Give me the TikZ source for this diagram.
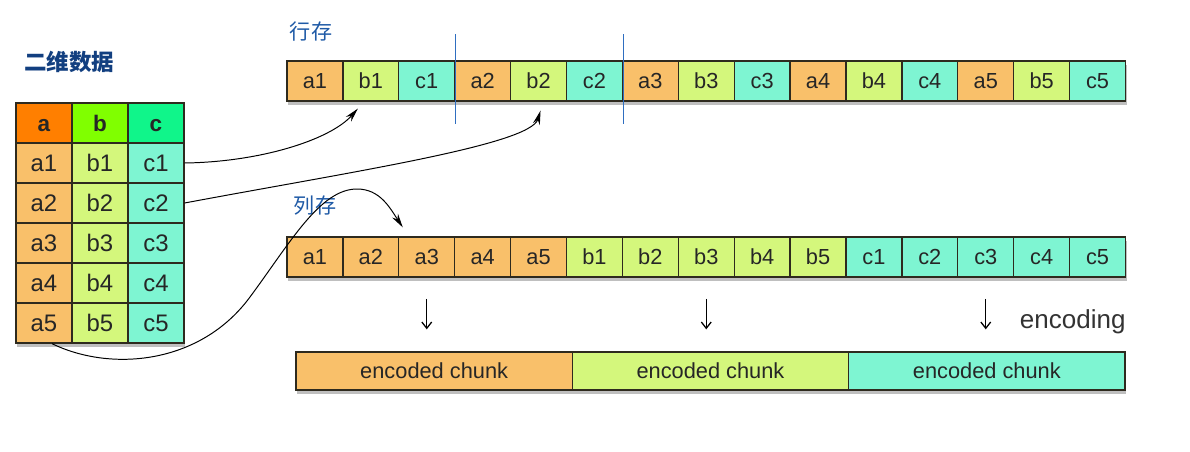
\documentclass[tikz,border=0pt]{standalone}
\usepackage{fontspec}
\setmainfont{Liberation Sans}
\newfontfamily\cjkfont{Noto Sans CJK SC}
\usetikzlibrary{arrows.meta,positioning,shadows,calc}

\definecolor{colA}{HTML}{F9C06A}
\definecolor{colB}{HTML}{D4F77C}
\definecolor{colC}{HTML}{7EF5D2}
\definecolor{headA}{HTML}{FF7F00}
\definecolor{headB}{HTML}{80FF00}
\definecolor{headC}{HTML}{10F58A}
\definecolor{gridline}{HTML}{2E2A1E}
\definecolor{labelblue}{HTML}{1F5AA6}
\definecolor{titleblue}{HTML}{123F80}
\definecolor{splitblue}{HTML}{2F6EC0}

\tikzset{
  cell/.style={draw=gridline, line width=0.9pt, inner sep=0pt, text=black!85,
    minimum width=1.3975cm, minimum height=1cm, font=\fontsize{15.5}{17}\selectfont,
    drop shadow={shadow xshift=1pt, shadow yshift=-2.5pt, fill=black!25, opacity=1}},
  tcell/.style={cell, minimum width=1.4cm, font=\fontsize{17}{19}\selectfont},
  head/.style={tcell, font=\bfseries\fontsize{16}{18}\selectfont, text height=11.5pt, text depth=0pt},
  chunk/.style={cell, minimum width=6.9075cm, minimum height=0.95cm, font=\fontsize{15.5}{17}\selectfont},
  link/.style={-{Stealth[length=10pt,width=5pt]}, line width=0.7pt},
  enc/.style={-{Straight Barb[length=4.5pt,width=7pt]}, line width=0.9pt, shorten <=0.53cm, shorten >=0.55cm},
  split/.style={splitblue, line width=0.6pt},
  tag/.style={font=\cjkfont\fontsize{15}{17}\selectfont, text=labelblue}
}

\begin{document}
\begin{tikzpicture}[x=0.025cm, y=0.025cm]
\useasboundingbox (0,0) rectangle (1190,-452);

% Titles
\node[font=\cjkfont\bfseries\fontsize{16}{18}\selectfont, text=titleblue] (title) at (69,-62) {二维数据};
\node[tag] (rowtag) at (311,-32) {行存};
\node[tag] (coltag) at (315,-206) {列存};

% 2D table
\foreach \l/\c/\h [count=\j] in {a/colA/headA,b/colB/headB,c/colC/headC} {
  \node[head, fill=\h] (t-\l) at ({16+56*(\j-0.5)},-123) {\l};
  \foreach \n in {1,...,5}
    \node[tcell, fill=\c] (t-\l\n) at ({16+56*(\j-0.5)},{-123-40*\n}) {\l\n};
}

% Row storage
\foreach \n in {1,...,5}
  \foreach \l/\c [count=\j] in {a/colA,b/colB,c/colC} {
    \pgfmathtruncatemacro\k{3*(\n-1)+\j}
    \node[cell, fill=\c] (r\k) at ({287+55.9*(\k-0.5)},-81) {\l\n};
  }
\draw[split] ($(r3.north east)+(0,26)$) -- ($(r3.south east)+(0,-22)$);
\draw[split] ($(r6.north east)+(0,26)$) -- ($(r6.south east)+(0,-22)$);

% Column storage
\foreach \l/\c [count=\j] in {a/colA,b/colB,c/colC}
  \foreach \n in {1,...,5} {
    \pgfmathtruncatemacro\k{5*(\j-1)+\n}
    \node[cell, fill=\c] (k\k) at ({287+55.9*(\k-0.5)},-257) {\l\n};
  }

% Encoded chunks
\foreach \c [count=\j] in {colA,colB,colC}
  \node[chunk, fill=\c] (e\j) at ({296+276.33*(\j-0.5)},-371) {encoded chunk};
\foreach \k/\e in {3/1,8/2,13/3}
  \draw[enc] (k\k.south) -- (k\k.south |- e\e.north);
\node[font=\fontsize{18.5}{20}\selectfont, text=black!80, anchor=west] (enclabel) at (1015,-322) {encoding};

% Links from table to strips
\coordinate (tip1) at ($(r2.south)+(-13,-7)$);
\coordinate (tip2) at ($(r5.south)+(2,-9)$);
\coordinate (tip3) at ($(k3.north)+(-24,9)$);
\draw[link] (t-c1.east) .. controls (260,-162) and (330,-140) .. (tip1);
\draw[link] (t-c2.east) .. controls (350,-172) and (530,-145) .. (tip2);
\draw[link] ($(t-a5.south)+(8,0)$) .. controls (110,-372) and (200,-365) .. (250,-297)
  .. controls (290,-243) and (320,-189) .. (357,-189)
  .. controls (380,-189) and (390,-208) .. (tip3);

\end{tikzpicture}
\end{document}
